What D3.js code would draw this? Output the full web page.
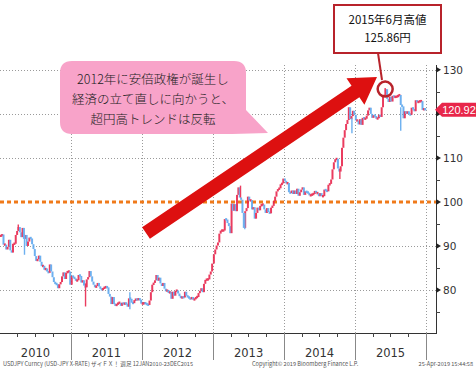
<!DOCTYPE html>
<html><head><meta charset="utf-8">
<script src="https://cdn.jsdelivr.net/npm/d3@7"></script>
<style>body{margin:0;background:#fff}svg{display:block}</style>
</head><body>
<svg id="c" width="476" height="372"></svg>
<script>
// ---- data (weekly closes, USD/JPY) ----
const years = [2010, 2011, 2012, 2013, 2014, 2015];
const close2010 = [92.3,92.6,90.3,90.3, 89.2,89.8,91.4,89.0, 88.5,90.5,90.5,92.5,93.4, 94.3,93.1,92.0,94.1, 91.6,92.5,90.0,91.0, 91.9,91.7,90.4,89.3, 87.7,86.6,87.0,87.8,86.4, 85.4,85.5,84.6,84.9, 84.2,83.9,85.8,84.2, 82.9,81.8,81.4,81.3,80.4, 81.3,81.8,83.1,84.0, 82.5,83.9,84.2,84.2,81.2];
const close2011 = [83.2,82.9,82.6,82.1, 82.2,83.4,83.2,81.7, 82.2,81.0,80.6,82.4,82.9, 84.3,83.1,81.9,81.2, 80.6,80.9,81.6,80.8, 80.3,80.0,80.4,80.6,80.7, 80.6,79.1,78.5,76.8, 78.4,76.8,76.5,76.7, 77.1,77.1,76.4,77.1, 76.8,77.0,76.9,76.2,78.1, 78.0,77.1,77.0,77.7, 77.9,77.8,78.0,77.8,76.9];
const close2012 = [76.9,77.1,76.9,76.7, 76.6,77.6,79.5,81.2, 81.6,82.2,83.4,82.1,82.8, 81.5,80.9,81.6,80.3, 79.7,80.0,79.3,79.6, 78.0,79.6,78.7,79.8, 79.9,79.2,78.6,78.2, 78.4,78.3,79.6,78.7,78.4, 78.2,77.9,78.4,77.8,77.9, 78.4,78.4,79.3,79.8, 80.4,79.5,81.4,82.3,82.4, 82.4,83.5,84.2,86.0];
const close2013 = [88.1,89.2,90.1,90.8, 92.8,93.5,93.5,93.5, 96.1,96.0,95.2,94.5, 92.9,99.6,98.0,99.5, 97.9,101.6,103.3,101.0,100.5, 97.5,94.1,97.9,98.6, 101.2,100.3,100.4,98.3, 98.8,96.2,97.5,98.7,98.1, 99.1,99.4,99.4,98.3, 97.5,98.6,97.7,97.4, 98.7,99.1,100.2,101.2,102.4, 102.9,103.1,104.0,104.2,105.3];
const close2014 = [104.8,104.2,104.3,102.2,102.0, 102.6,101.8,102.6,101.8, 103.0,101.4,102.2,102.8, 103.3,101.6,102.4,102.2, 102.1,101.5,101.5,101.8,101.8, 102.5,102.0,102.0,101.3, 102.0,101.3,101.3,102.8, 102.6,102.4,103.9,104.1, 105.1,107.4,109.0,109.7, 109.8,107.6,106.9,108.1,112.3, 114.6,116.3,117.7,118.6, 121.5,118.8,119.5,120.7,119.8];
const close2015 = [118.5,118.5,117.6,118.8,117.5, 119.1,118.9,118.9,119.6, 120.8,121.4,120.0,119.1, 119.7,119.5,118.9,119.0, 119.8,119.3,121.5,124.1,124.1, 125.6,123.4,122.7,123.9, 122.8,124.1,123.8,123.9,123.9, 124.2,124.3,122.0,121.7, 119.0,120.6,120.0,120.6, 119.9,119.8,121.4,121.1,120.6, 123.1,122.6,122.8,122.9, 122.9,120.9,121.2,120.92];
// notable weekly wicks [date, low, high]
const wickDates = ["2010-04-05","2010-05-07","2011-03-17","2011-10-31","2013-05-22","2013-06-13","2014-10-15","2014-12-16","2015-06-05","2015-08-24"];
const wickLows  = [93.5, 88.0, 76.25, 75.6, 101.0, 93.8, 105.2, 115.6, 124.3, 116.15];
const wickHighs = [94.9, 92.5, 81.5, 79.5, 103.7, 97.5, 107.5, 119.0, 125.86, 121.5];
const yMajor = [80, 90, 100, 110, 120, 130];
const yMinor = [75, 85, 95, 105, 115, 125];
const refLevel = 100;
const lastValue = 120.92;
const calloutLines = ["2015年6月高値", "125.86円"];
const bubbleLines = ["2012年に安倍政権が誕生し", "経済の立て直しに向かうと、", "超円高トレンドは反転"];
const footLeft = "USDJPY Curncy (USD-JPY X-RATE) ザイＦＸ！  週足 12JAN2010-23DEC2015";
const footMid = "Copyright© 2019 Bloomberg Finance L.P.";
const footRight = "25-Apr-2019 15:44:58";

// ---- build ----
const closes = [close2010, close2011, close2012, close2013, close2014, close2015];
const series = [];
closes.forEach((arr, k) => {
  arr.forEach((v, i) => series.push({date: d3.timeDay.offset(new Date(years[k], 0, 1), 4 + 7 * i), close: v}));
});

const svg = d3.select("#c");
const x = d3.scaleTime().domain([new Date(2010,0,1), new Date(2016,0,1)]).range([0, 426]);
const y = d3.scaleLinear().domain([70.23, 131.1]).range([333, 65]);
const axisX = 436, plotTop = 65, plotBottom = 333;

// gridlines
const g = svg.append("g");
g.selectAll(".hg").data(yMajor.filter(d => d !== refLevel)).enter().append("line")
  .attr("x1", 0).attr("x2", axisX).attr("y1", d => Math.round(y(d)) + 0.5).attr("y2", d => Math.round(y(d)) + 0.5)
  .attr("stroke", "#9a9a9a").attr("stroke-width", 1).attr("stroke-dasharray", "1,2");
const yearBounds = d3.range(2011, 2017).map(yr => new Date(yr, 0, 1));
g.selectAll(".vg").data(yearBounds).enter().append("line")
  .attr("x1", d => Math.round(x(d)) + 0.5).attr("x2", d => Math.round(x(d)) + 0.5)
  .attr("y1", plotTop).attr("y2", plotBottom)
  .attr("stroke", "#9a9a9a").attr("stroke-width", 1).attr("stroke-dasharray", "1,2");

// reference line at 100
svg.append("line").attr("x1", 0).attr("x2", axisX).attr("y1", y(refLevel)).attr("y2", y(refLevel))
  .attr("stroke", "#f07a1a").attr("stroke-width", 3).attr("stroke-dasharray", "4,3");

// bars
const red = "#e8224a", blue = "#5aa6ee";
const bars = svg.append("g").attr("opacity", 0.88);
series.forEach((d, i) => {
  const prev = i > 0 ? series[i - 1].close : d.close;
  let y1 = y(prev), y2 = y(d.close);
  if (Math.abs(y1 - y2) < 2.4) { const m = (y1 + y2) / 2; y1 = m - 1.2; y2 = m + 1.2; }
  bars.append("line").attr("x1", x(d.date)).attr("x2", x(d.date)).attr("y1", y1).attr("y2", y2)
    .attr("stroke", d.close >= prev ? red : blue).attr("stroke-width", 2);
});
wickDates.forEach((ds, i) => {
  const dt = new Date(ds);
  bars.append("line").attr("x1", x(dt)).attr("x2", x(dt)).attr("y1", y(wickLows[i])).attr("y2", y(wickHighs[i]))
    .attr("stroke", i % 2 ? blue : red).attr("stroke-width", 1.4);
});

// axes
svg.append("line").attr("x1", axisX + 0.5).attr("x2", axisX + 0.5).attr("y1", plotTop).attr("y2", plotBottom + 0.5)
  .attr("stroke", "#333").attr("stroke-width", 1);
svg.append("line").attr("x1", 0).attr("x2", axisX + 1).attr("y1", plotBottom + 0.5).attr("y2", plotBottom + 0.5)
  .attr("stroke", "#333").attr("stroke-width", 1);
svg.selectAll(".tri").data(yMajor).enter().append("path")
  .attr("d", d => `M${axisX},${y(d) - 3}L${axisX + 5},${y(d)}L${axisX},${y(d) + 3}Z`).attr("fill", "#222");
svg.selectAll(".mt").data(yMinor).enter().append("line")
  .attr("x1", axisX).attr("x2", axisX + 4).attr("y1", d => Math.round(y(d)) + 0.5).attr("y2", d => Math.round(y(d)) + 0.5)
  .attr("stroke", "#444");
// the 120 label sits behind the last-value flag in the reference
svg.selectAll(".yl").data(yMajor.filter(d => Math.abs(y(d) - y(lastValue)) > 8)).enter().append("text")
  .attr("x", axisX + 7).attr("y", d => y(d) + 4).text(d => d)
  .attr("font-family", "DejaVu Sans, sans-serif").attr("font-size", 10.5).attr("fill", "#333");

// x axis: quarter ticks and year separators
const quarters = d3.timeMonth.range(new Date(2010,0,1), new Date(2016,0,2), 3).filter(d => d.getMonth() !== 0);
svg.selectAll(".qt").data(quarters).enter().append("line")
  .attr("x1", d => Math.round(x(d)) + 0.5).attr("x2", d => Math.round(x(d)) + 0.5)
  .attr("y1", plotBottom).attr("y2", plotBottom + 4).attr("stroke", "#444");
svg.selectAll(".ys").data(yearBounds).enter().append("line")
  .attr("x1", d => Math.round(x(d)) + 0.5).attr("x2", d => Math.round(x(d)) + 0.5)
  .attr("y1", plotBottom).attr("y2", 360).attr("stroke", "#888");
svg.selectAll(".yr").data(years).enter().append("text")
  .attr("x", d => (x(new Date(d,0,1)) + x(new Date(d + 1,0,1))) / 2).attr("y", 357)
  .attr("text-anchor", "middle").text(d => d)
  .attr("font-family", "DejaVu Sans, sans-serif").attr("font-size", 11.5).attr("fill", "#333");

// footnote
const foot = svg.append("g").attr("font-family", "Noto Sans CJK JP, sans-serif").attr("font-size", 5.6).attr("fill", "#555");
foot.append("text").attr("x", 3).attr("y", 366).text(footLeft);
foot.append("text").attr("x", 252).attr("y", 366).text(footMid);
foot.append("text").attr("x", 473).attr("y", 366).attr("text-anchor", "end").text(footRight);

// last value flag
const ly = y(lastValue);
svg.append("path").attr("d", `M435,${ly}L442,${ly - 7}L476,${ly - 7}L476,${ly + 7}L442,${ly + 7}Z`).attr("fill", "#e8264a");
svg.append("text").attr("x", 459).attr("y", ly + 4).attr("text-anchor", "middle").text(lastValue.toFixed(2))
  .attr("font-family", "Liberation Sans, Arial, sans-serif").attr("font-size", 11).attr("fill", "#fff");

// pink bubble
svg.append("path")
  .attr("d", "M72,61 H234 Q246,61 246,73 V110 L268,133 L232,134 H72 Q60,134 60,122 V73 Q60,61 72,61 Z")
  .attr("fill", "#f8a3c9");
svg.selectAll(".bt").data(bubbleLines).enter().append("text")
  .attr("x", 153).attr("y", (d, i) => 84 + i * 20).attr("text-anchor", "middle").text(d => d)
  .attr("font-family", "Noto Sans CJK JP, sans-serif").attr("font-size", 12.5).attr("font-weight", 300).attr("fill", "#222");

// big red arrow
(function () {
  const tx = 146, ty = 233, px = 377, py = 77;
  const L = Math.hypot(px - tx, py - ty), ux = (px - tx) / L, uy = (py - ty) / L, nx = -uy, ny = ux;
  const hw = 7, hl = 26, hh = 16;
  const bx = px - ux * hl, by = py - uy * hl;
  const pts = [
    [tx + nx * hw, ty + ny * hw], [bx + nx * hw, by + ny * hw], [bx + nx * hh, by + ny * hh],
    [px, py], [bx - nx * hh, by - ny * hh], [bx - nx * hw, by - ny * hw], [tx - nx * hw, ty - ny * hw]
  ];
  svg.append("path").attr("d", "M" + pts.map(p => p.join(",")).join("L") + "Z").attr("fill", "#dd1010");
})();

// callout box + circle
svg.append("line").attr("x1", 378).attr("y1", 53).attr("x2", 382).attr("y2", 80).attr("stroke", "#b8232b").attr("stroke-width", 2);
svg.append("circle").attr("cx", x(new Date("2015-06-05"))).attr("cy", y(125.86) + 1).attr("r", 7.5)
  .attr("fill", "none").attr("stroke", "#b8232b").attr("stroke-width", 2.5);
svg.append("rect").attr("x", 334).attr("y", 5).attr("width", 107).attr("height", 48)
  .attr("fill", "#fff").attr("stroke", "#b8232b").attr("stroke-width", 2);
svg.selectAll(".ct").data(calloutLines).enter().append("text")
  .attr("x", 387.5).attr("y", (d, i) => 24 + i * 18).attr("text-anchor", "middle").text(d => d)
  .attr("font-family", "Noto Sans CJK JP, sans-serif").attr("font-size", 11.5).attr("fill", "#111");
</script>
</body></html>
